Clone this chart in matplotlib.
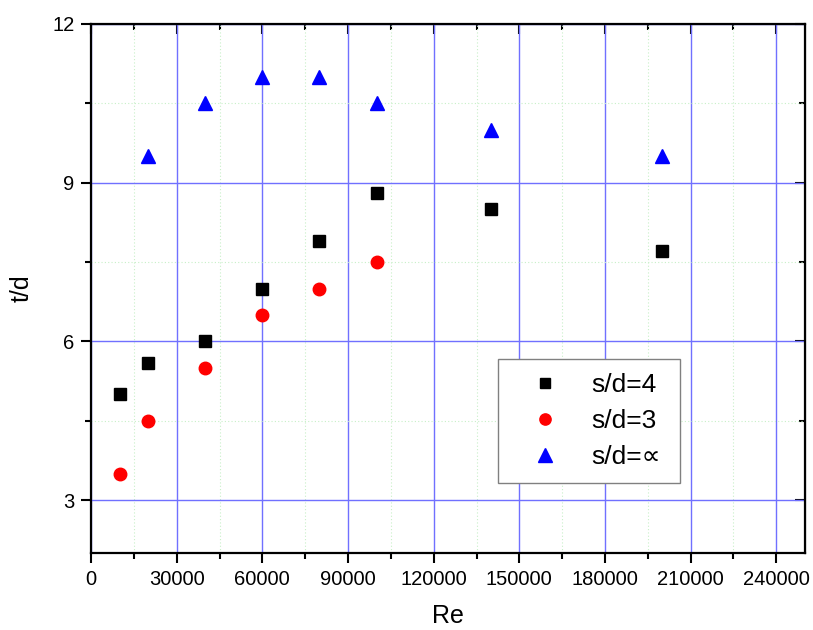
import matplotlib
matplotlib.use('Agg')
import matplotlib.pyplot as plt
from matplotlib.ticker import MultipleLocator

plt.rcParams['font.family'] = ['Liberation Sans', 'DejaVu Sans']

# data
re_sd4 = [10000, 20000, 40000, 60000, 80000, 100000, 140000, 200000]
td_sd4 = [5.0, 5.6, 6.0, 7.0, 7.9, 8.8, 8.5, 7.7]
re_sd3 = [10000, 20000, 40000, 60000, 80000, 100000]
td_sd3 = [3.5, 4.5, 5.5, 6.5, 7.0, 7.5]
re_inf = [20000, 40000, 60000, 80000, 100000, 140000, 200000]
td_inf = [9.5, 10.5, 11.0, 11.0, 10.5, 10.0, 9.5]

fig = plt.figure(figsize=(8.13, 6.3), dpi=100)
ax = fig.add_axes([0.112, 0.122, 0.878, 0.840])

ax.plot(re_sd4, td_sd4, 's', color='black', ms=8.5, ls='none', label='s/d=4', zorder=5)
ax.plot(re_sd3, td_sd3, 'o', color='red', ms=9, ls='none', label='s/d=3', zorder=5)
ax.plot(re_inf, td_inf, '^', color='blue', ms=10.5, ls='none', label='s/d=\u221d', zorder=5)

ax.set_xlim(0, 250000)
ax.set_ylim(2, 12)
ax.xaxis.set_major_locator(MultipleLocator(30000))
ax.xaxis.set_minor_locator(MultipleLocator(15000))
ax.yaxis.set_major_locator(MultipleLocator(3))
ax.yaxis.set_minor_locator(MultipleLocator(1.5))

ax.grid(which='major', color='#7070ff', lw=1.0)
ax.grid(which='minor', color='#c8f0c8', lw=0.8, ls=(0, (1, 2)))
ax.set_axisbelow(True)

for s in ax.spines.values():
    s.set_linewidth(1.6)

ax.tick_params(which='both', direction='out', width=1.5, labelsize=14.5, pad=5)
ax.tick_params(which='major', length=7)
ax.tick_params(which='minor', length=4.5)

# mirrored ticks on top/right pointing inward
secx = ax.secondary_xaxis('top')
secx.xaxis.set_major_locator(MultipleLocator(30000))
secx.xaxis.set_minor_locator(MultipleLocator(15000))
secx.tick_params(which='both', direction='in', width=1.5, labeltop=False)
secx.tick_params(which='major', length=7)
secx.tick_params(which='minor', length=4.5)
secy = ax.secondary_yaxis('right')
secy.yaxis.set_major_locator(MultipleLocator(3))
secy.yaxis.set_minor_locator(MultipleLocator(1.5))
secy.tick_params(which='both', direction='in', width=1.5, labelright=False)
secy.tick_params(which='major', length=7)
secy.tick_params(which='minor', length=4.5)

ax.set_xlabel('Re', fontsize=18, labelpad=11)
ax.set_ylabel('t/d', fontsize=18, labelpad=13)

leg = ax.legend(loc='lower left', bbox_to_anchor=(0.57, 0.132, 0.255, 0.237),
                mode='expand', borderaxespad=0, fontsize=19, fancybox=False,
                edgecolor='#808080', framealpha=1, handletextpad=0.47,
                borderpad=0.55, labelspacing=0.45, handlelength=2.5, markerscale=0.9)
leg.get_frame().set_linewidth(1.0)

fig.savefig('out.png', dpi=100)
